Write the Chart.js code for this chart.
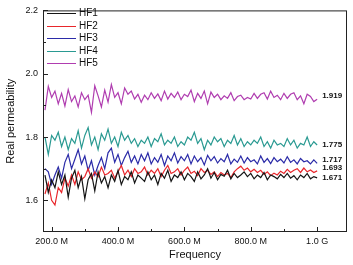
<!DOCTYPE html>
<html>
<head>
<meta charset="utf-8">
<script src="https://cdn.jsdelivr.net/npm/chart.js@4"></script>
<style>
  html, body { margin: 0; padding: 0; background: #fff; }
  #c { display: block; }
</style>
</head>
<body>
<canvas id="c" width="353" height="265"></canvas>
<script>
'use strict';
// frequency in MHz
const freq = [
  180, 190, 200, 210, 220, 230, 240, 250, 260, 270,
  280, 290, 300, 310, 320, 330, 340, 350, 360, 370,
  380, 390, 400, 410, 420, 430, 440, 450, 460, 470,
  480, 490, 500, 510, 520, 530, 540, 550, 560, 570,
  580, 590, 600, 610, 620, 630, 640, 650, 660, 670,
  680, 690, 700, 710, 720, 730, 740, 750, 760, 770,
  780, 790, 800, 810, 820, 830, 840, 850, 860, 870,
  880, 890, 900, 910, 920, 930, 940, 950, 960, 970,
  980, 990, 1000
];
const hf1 = [
  1.680, 1.625, 1.665, 1.640, 1.690, 1.650, 1.680, 1.610, 1.670, 1.695,
  1.640, 1.675, 1.605, 1.665, 1.685, 1.630, 1.690, 1.655, 1.675, 1.640,
  1.680, 1.660, 1.695, 1.650, 1.675, 1.665, 1.690, 1.655, 1.680, 1.670,
  1.660, 1.690, 1.665, 1.680, 1.650, 1.685, 1.670, 1.695, 1.660, 1.680,
  1.672, 1.690, 1.665, 1.685, 1.675, 1.660, 1.690, 1.668, 1.680, 1.700,
  1.670, 1.688, 1.665, 1.682, 1.676, 1.695, 1.668, 1.685, 1.672, 1.680,
  1.690, 1.675, 1.685, 1.668, 1.680, 1.672, 1.688, 1.665, 1.680, 1.675,
  1.668, 1.682, 1.672, 1.685, 1.670, 1.678, 1.665, 1.680, 1.672, 1.685,
  1.668, 1.675, 1.671
];
const hf2 = [
  1.620, 1.655, 1.600, 1.585, 1.640, 1.625, 1.670, 1.645, 1.680, 1.650,
  1.690, 1.665, 1.675, 1.700, 1.670, 1.690, 1.675, 1.705, 1.680, 1.685,
  1.695, 1.670, 1.690, 1.710, 1.680, 1.695, 1.675, 1.700, 1.685, 1.690,
  1.705, 1.680, 1.695, 1.685, 1.700, 1.675, 1.695, 1.710, 1.685, 1.690,
  1.700, 1.680, 1.695, 1.705, 1.685, 1.692, 1.678, 1.700, 1.688, 1.695,
  1.682, 1.690, 1.675, 1.688, 1.680, 1.685, 1.672, 1.690, 1.700, 1.708,
  1.695, 1.702, 1.690, 1.698, 1.688, 1.695, 1.682, 1.690, 1.678, 1.686,
  1.680, 1.692, 1.685, 1.698, 1.688, 1.695, 1.700, 1.688, 1.702, 1.690,
  1.696, 1.688, 1.693
];
const hf3 = [
  1.700, 1.690, 1.650, 1.680, 1.705, 1.670, 1.720, 1.745, 1.700, 1.730,
  1.760, 1.715, 1.740, 1.695, 1.725, 1.680, 1.710, 1.735, 1.700, 1.750,
  1.765, 1.720, 1.745, 1.710, 1.735, 1.755, 1.720, 1.740, 1.715, 1.745,
  1.725, 1.750, 1.715, 1.735, 1.720, 1.745, 1.710, 1.740, 1.725, 1.750,
  1.718, 1.738, 1.725, 1.745, 1.715, 1.740, 1.722, 1.735, 1.712, 1.742,
  1.725, 1.738, 1.718, 1.732, 1.722, 1.745, 1.715, 1.730, 1.720, 1.740,
  1.718, 1.735, 1.722, 1.728, 1.715, 1.740, 1.720, 1.732, 1.716, 1.735,
  1.722, 1.730, 1.718, 1.738, 1.720, 1.728, 1.715, 1.732, 1.722, 1.725,
  1.715, 1.728, 1.717
];
const hf4 = [
  1.800, 1.745, 1.805, 1.790, 1.815, 1.770, 1.800, 1.760, 1.795, 1.780,
  1.820, 1.765, 1.805, 1.830, 1.775, 1.800, 1.760, 1.810, 1.790, 1.825,
  1.780, 1.800, 1.770, 1.815, 1.790, 1.805, 1.780, 1.795, 1.770, 1.790,
  1.780, 1.800, 1.770, 1.795, 1.785, 1.810, 1.775, 1.790, 1.780, 1.800,
  1.770, 1.785, 1.775, 1.800, 1.790, 1.815, 1.780, 1.795, 1.760, 1.790,
  1.775, 1.800, 1.785, 1.795, 1.770, 1.790, 1.780, 1.805, 1.775, 1.795,
  1.770, 1.785, 1.775, 1.790, 1.780, 1.800, 1.770, 1.785, 1.765, 1.790,
  1.775, 1.780, 1.770, 1.795, 1.775, 1.790, 1.765, 1.780, 1.775, 1.800,
  1.770, 1.785, 1.775
];
const hf5 = [
  1.885, 1.960, 1.925, 1.945, 1.905, 1.938, 1.898, 1.950, 1.912, 1.930,
  1.895, 1.940, 1.918, 1.932, 1.878, 1.962, 1.930, 1.895, 1.948, 1.910,
  1.966, 1.925, 1.940, 1.905, 1.955, 1.935, 1.945, 1.920, 1.935, 1.910,
  1.932, 1.918, 1.940, 1.922, 1.936, 1.915, 1.945, 1.920, 1.938, 1.925,
  1.942, 1.918, 1.935, 1.928, 1.948, 1.912, 1.938, 1.922, 1.945, 1.905,
  1.942, 1.925, 1.935, 1.918, 1.930, 1.922, 1.940, 1.915, 1.928, 1.932,
  1.918, 1.925, 1.920, 1.938, 1.922, 1.935, 1.940, 1.920, 1.945, 1.925,
  1.932, 1.918, 1.938, 1.922, 1.935, 1.940, 1.918, 1.930, 1.905, 1.935,
  1.928, 1.912, 1.919
];
const names = ['HF1', 'HF2', 'HF3', 'HF4', 'HF5'];
const endLabels = ['1.671', '1.693', '1.717', '1.775', '1.919'];
const xMajor = [200, 400, 600, 800, 1000];
const xMinor = [300, 500, 700, 900];
const yMajor = [1.6, 1.8, 2.0, 2.2];
const yMinor = [1.7, 1.9, 2.1];

const colors = ['#151515', '#e8262b', '#2b2ba8', '#2a9a92', '#b03db0'];
const labelDy = [0, -3, -4, 0, -4];
const FONT = 'Arial, "Liberation Sans", sans-serif';

const series = [hf1, hf2, hf3, hf4, hf5];
const datasets = series.map((vals, i) => ({
  label: names[i],
  data: vals.map((v, k) => ({ x: freq[k], y: v })),
  borderColor: colors[i],
  borderWidth: 1.2,
  pointRadius: 0,
  tension: 0,
  fill: false,
}));

//frame, inward ticks, legend and end values
const decor = {
  id: 'decor',
  afterDraw(chart) {
    const { ctx, chartArea: a, scales: { x, y } } = chart;
    ctx.save();
    ctx.strokeStyle = '#222';
    ctx.lineWidth = 1;
    ctx.strokeRect(a.left + 0.5, a.top + 0.5, a.right - a.left - 1, a.bottom - a.top - 1);

    ctx.beginPath();
    const tick = (vals, len) => {
      vals.forEach((v) => {
        const px = Math.round(x.getPixelForValue(v)) + 0.5;
        ctx.moveTo(px, a.bottom);
        ctx.lineTo(px, a.bottom - len);
      });
    };
    tick(xMajor, 5);
    tick(xMinor, 3);
    yMajor.forEach((v) => {
      const py = Math.round(y.getPixelForValue(v)) + 0.5;
      ctx.moveTo(a.left, py);
      ctx.lineTo(a.left + 5, py);
    });
    yMinor.forEach((v) => {
      const py = Math.round(y.getPixelForValue(v)) + 0.5;
      ctx.moveTo(a.left, py);
      ctx.lineTo(a.left + 3, py);
    });
    ctx.stroke();

    // legend
    ctx.font = '10px ' + FONT;
    ctx.textBaseline = 'middle';
    ctx.textAlign = 'left';
    names.forEach((n, i) => {
      const ly = 13 + i * 12.5;
      ctx.strokeStyle = colors[i];
      ctx.beginPath();
      ctx.moveTo(47, Math.round(ly) + 0.5);
      ctx.lineTo(76, Math.round(ly) + 0.5);
      ctx.stroke();
      ctx.fillStyle = '#111';
      ctx.fillText(n, 79, ly + 0.5);
    });

    // end values
    ctx.font = 'bold 8px ' + FONT;
    endLabels.forEach((t, i) => {
      const px = x.getPixelForValue(freq[freq.length - 1]) + 5;
      const py = y.getPixelForValue(parseFloat(t)) + labelDy[i];
      ctx.fillText(t, px, py);
    });
    ctx.restore();
  },
};

new Chart(document.getElementById('c'), {
  type: 'line',
  data: { datasets: datasets },
  options: {
    responsive: false,
    animation: false,
    layout: { padding: { top: 5, right: 6, left: 0, bottom: 0 } },
    plugins: { legend: { display: false }, tooltip: { enabled: false } },
    scales: {
      x: {
        type: 'linear',
        min: 174,
        max: 1090,
        grid: { display: false, drawTicks: false },
        border: { display: false },
        afterBuildTicks: (s) => { s.ticks = xMajor.map((v) => ({ value: v })); },
        afterFit: (s) => { s.height = 33; },
        ticks: {
          padding: 4,
          color: '#111',
          font: { family: FONT, size: 9 },
          maxRotation: 0,
          callback: (v) => (v >= 1000 ? (v / 1000).toFixed(1) + ' G' : v.toFixed(1) + ' M'),
        },
        title: {
          display: true,
          text: 'Frequency',
          color: '#111',
          font: { family: FONT, size: 11 },
          padding: { top: 0, bottom: 3 },
        },
      },
      y: {
        min: 1.5,
        max: 2.2,
        grid: { display: false, drawTicks: false },
        border: { display: false },
        afterBuildTicks: (s) => { s.ticks = yMajor.map((v) => ({ value: v })); },
        afterFit: (s) => { s.width = 43; },
        ticks: {
          padding: 5,
          color: '#111',
          font: { family: FONT, size: 9 },
          callback: (v) => v.toFixed(1),
        },
        title: {
          display: true,
          text: 'Real permeability',
          color: '#111',
          font: { family: FONT, size: 11 },
          padding: { top: 4, bottom: 0 },
        },
      },
    },
  },
  plugins: [decor],
});
</script>
</body>
</html>
